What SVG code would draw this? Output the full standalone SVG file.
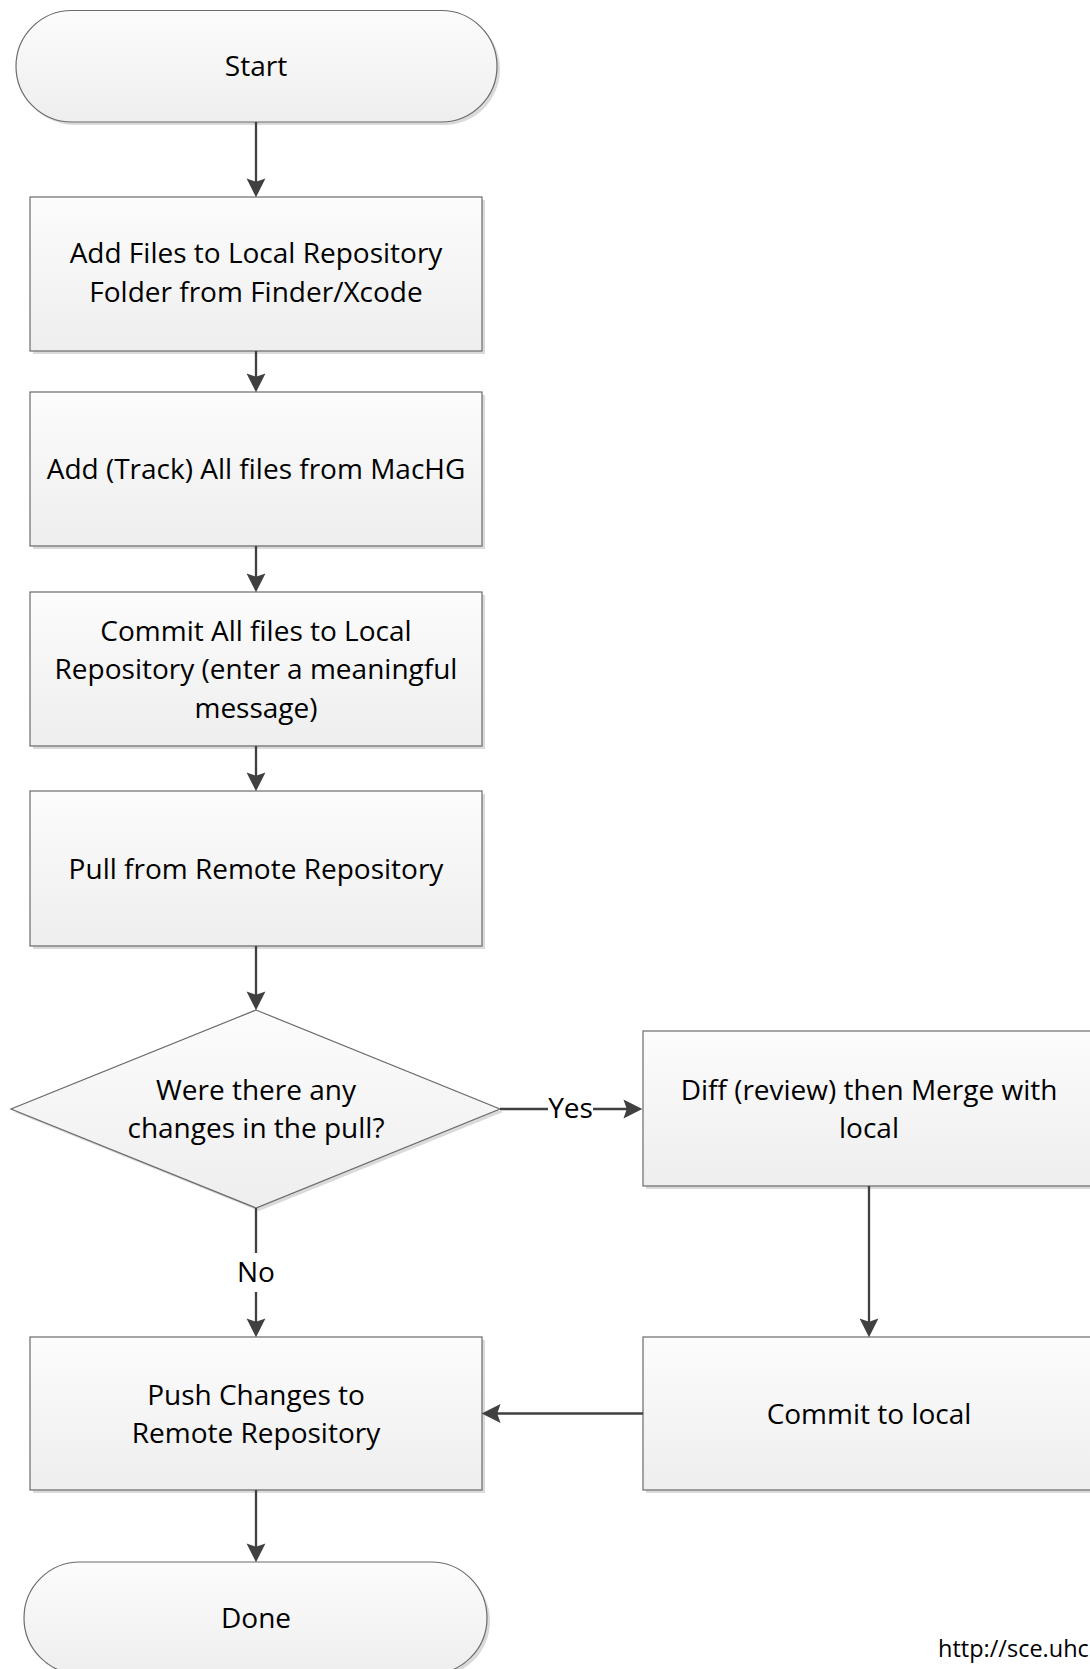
<svg xmlns="http://www.w3.org/2000/svg" width="1090" height="1669" viewBox="0 0 1090 1669">
<defs>
<linearGradient id="fillg" x1="0" y1="0" x2="0" y2="1">
<stop offset="0" stop-color="#fcfcfc"/>
<stop offset="1" stop-color="#eeeeee"/>
</linearGradient>
<marker id="arr" markerUnits="userSpaceOnUse" markerWidth="20" markerHeight="20" viewBox="0 0 18 18" refX="14" refY="9" orient="auto">
<path d="M0,0.5 L17,9 L0,17.5 L3,9 Z" fill="#404040"/>
</marker>
<style>
.node{fill:url(#fillg);stroke:#6b6b6b;stroke-width:1.2}
.shadow{fill:#dadada;stroke:none}
.t{font-family:"Open Sans","Liberation Sans",sans-serif;font-size:28px;fill:#000;text-anchor:middle}
.conn{fill:none;stroke:#404040;stroke-width:2.3}
.url{font-family:"Open Sans","Liberation Sans",sans-serif;font-size:23.5px;fill:#000}
</style>
</defs>
<rect width="1090" height="1669" fill="#ffffff"/>

<g id="start">
<rect class="shadow" x="19" y="13.5" width="481" height="111.5" rx="55.75"/>
<rect class="node" x="16" y="10.5" width="481" height="111.5" rx="55.75"/>
<text class="t" x="256" y="76">Start</text>
</g>

<g id="add-files">
<rect class="shadow" x="33" y="200" width="452" height="154"/>
<rect class="node" x="30" y="197" width="452" height="154"/>
<text class="t" x="256" y="263">Add Files to Local Repository</text>
<text class="t" x="256" y="302">Folder from Finder/Xcode</text>
</g>

<g id="track-files">
<rect class="shadow" x="33" y="395" width="452" height="154"/>
<rect class="node" x="30" y="392" width="452" height="154"/>
<text class="t" x="256" y="479">Add (Track) All files from MacHG</text>
</g>

<g id="commit-all">
<rect class="shadow" x="33" y="595" width="452" height="154"/>
<rect class="node" x="30" y="592" width="452" height="154"/>
<text class="t" x="256" y="640.5">Commit All files to Local</text>
<text class="t" x="256" y="679">Repository (enter a meaningful</text>
<text class="t" x="256" y="717.5">message)</text>
</g>

<g id="pull">
<rect class="shadow" x="33" y="794" width="452" height="155"/>
<rect class="node" x="30" y="791" width="452" height="155"/>
<text class="t" x="256" y="878.5">Pull from Remote Repository</text>
</g>

<g id="decision">
<polygon class="shadow" points="259,1013 503,1112 259,1211 14,1112"/>
<polygon class="node" points="256,1010 500,1109 256,1208 11,1109"/>
<text class="t" x="256" y="1100">Were there any</text>
<text class="t" x="256" y="1138">changes in the pull?</text>
</g>

<g id="diff-merge">
<rect class="shadow" x="646" y="1034" width="452" height="155"/>
<rect class="node" x="643" y="1031" width="452" height="155"/>
<text class="t" x="869" y="1099.5">Diff (review) then Merge with</text>
<text class="t" x="869" y="1137.5">local</text>
</g>

<g id="commit-local">
<rect class="shadow" x="646" y="1340" width="452" height="153"/>
<rect class="node" x="643" y="1337" width="452" height="153"/>
<text class="t" x="869" y="1423.5">Commit to local</text>
</g>

<g id="push">
<rect class="shadow" x="33" y="1340" width="452" height="153"/>
<rect class="node" x="30" y="1337" width="452" height="153"/>
<text class="t" x="256" y="1404.5">Push Changes to</text>
<text class="t" x="256" y="1442.5">Remote Repository</text>
</g>

<g id="done">
<rect class="shadow" x="27" y="1565" width="463" height="112" rx="56"/>
<rect class="node" x="24" y="1562" width="463" height="112" rx="56"/>
<text class="t" x="256" y="1628">Done</text>
</g>

<g id="connectors">
<path class="conn" d="M256,122 V194" marker-end="url(#arr)"/>
<path class="conn" d="M256,351 V389" marker-end="url(#arr)"/>
<path class="conn" d="M256,546 V589" marker-end="url(#arr)"/>
<path class="conn" d="M256,746 V788" marker-end="url(#arr)"/>
<path class="conn" d="M256,946 V1007" marker-end="url(#arr)"/>
<path class="conn" d="M500,1109 H548 M593,1109 H639" marker-end="url(#arr)"/>
<text class="t" x="570.5" y="1118">Yes</text>
<path class="conn" d="M256,1208 V1253 M256,1292 V1334" marker-end="url(#arr)"/>
<text class="t" x="256" y="1282">No</text>
<path class="conn" d="M869,1186 V1334" marker-end="url(#arr)"/>
<path class="conn" d="M643,1413.5 H485" marker-end="url(#arr)"/>
<path class="conn" d="M256,1490 V1559" marker-end="url(#arr)"/>
</g>

<text class="url" x="938" y="1657">http://sce.uhc</text>
</svg>
